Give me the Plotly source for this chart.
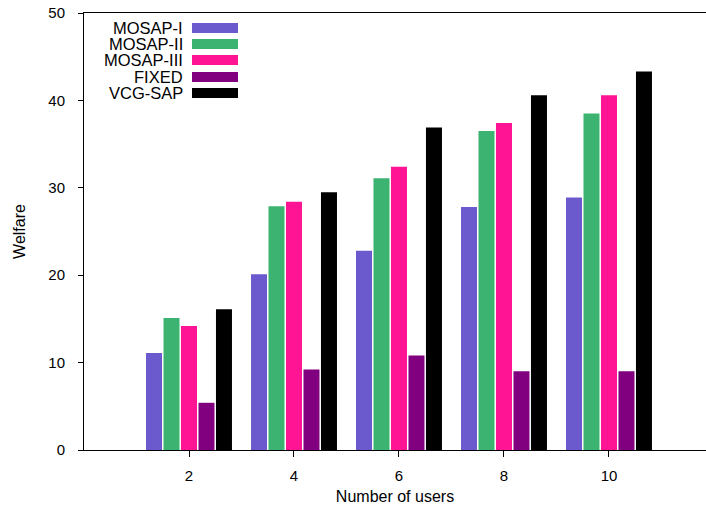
import plotly.graph_objects as go

users = [2, 4, 6, 8, 10]
series_names = ["MOSAP-I", "MOSAP-II", "MOSAP-III", "FIXED", "VCG-SAP"]
mosap_1 = [11.1, 20.1, 22.8, 27.8, 28.9]
mosap_2 = [15.1, 27.9, 31.1, 36.5, 38.5]
mosap_3 = [14.2, 28.4, 32.4, 37.4, 40.6]
fixed = [5.4, 9.2, 10.8, 9.0, 9.0]
vcg_sap = [16.1, 29.5, 36.9, 40.6, 43.3]
y_ticks = [0, 10, 20, 30, 40, 50]

series_values = [mosap_1, mosap_2, mosap_3, fixed, vcg_sap]
colors = ["#6A5ACD", "#3CB371", "#FF1493", "#800080", "#000000"]

FONT = "Liberation Sans, Arial, Helvetica, sans-serif"

fig = go.Figure()
for name, vals, col in zip(series_names, series_values, colors):
    fig.add_trace(go.Bar(x=users, y=vals, name=name, marker_color=col,
                         marker_line_width=0, showlegend=False))

W, H = 706, 510
ml, mt, mb = 84, 13, 60
fig.update_layout(
    width=W, height=H,
    margin=dict(l=ml, r=0, t=mt, b=mb, autoexpand=False),
    paper_bgcolor="white", plot_bgcolor="white",
    barmode="group", bargap=0.167, bargroupgap=0.085,
    font=dict(family=FONT, size=15, color="black"),
)
fig.update_xaxes(
    range=[0, 11.848], tickvals=users, ticktext=[str(u) for u in users],
    showgrid=False, zeroline=False, showline=True, linecolor="black", linewidth=1,
    mirror=True, ticks="outside", ticklen=6, tickcolor="black",
    tickfont=dict(size=15), ticklabelstandoff=6,
    title=dict(text="Number of users", font=dict(size=16), standoff=7),
)
fig.update_yaxes(
    range=[0, 50], tickvals=y_ticks, ticktext=[str(t) for t in y_ticks],
    showgrid=False, zeroline=False, showline=True, linecolor="black", linewidth=1,
    mirror=False, ticks="outside", ticklen=5, tickcolor="black",
    tickfont=dict(size=15), ticklabelstandoff=10,
    title=dict(text="Welfare", font=dict(size=16), standoff=18),
)

# gnuplot-style legend: right-aligned text with a coloured sample to its right
pw = W - ml
ph = H - mt - mb
row_y = [28, 44, 60, 77, 93]
for name, col, yy in zip(series_names, colors, row_y):
    yp = 1 - (yy - mt) / ph
    fig.add_annotation(xref="paper", yref="paper", x=(184 - ml) / pw, y=yp,
                       text=name, showarrow=False, xanchor="right", yanchor="middle",
                       borderpad=0, font=dict(size=16.5, family=FONT))
    fig.add_shape(type="rect", xref="paper", yref="paper",
                  x0=(192 - ml) / pw, x1=(238 - ml) / pw,
                  y0=1 - (yy + 5 - mt) / ph, y1=1 - (yy - 5 - mt) / ph,
                  fillcolor=col, line_width=0)

fig.write_html("out.html")
